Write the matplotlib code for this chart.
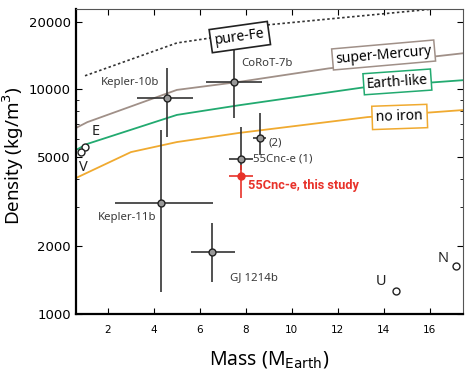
import matplotlib
matplotlib.use("Agg")
import matplotlib.pyplot as plt
from matplotlib.ticker import FixedLocator, NullFormatter

# composition curves (mass in M_Earth, density in kg/m^3)
fe_mass = [1.0, 5.0, 6.4, 9.0, 17.5]
fe_rho = [11500, 16100, 16900, 19400, 23500]
merc_mass = [0.6, 1.1, 5.0, 7.7, 11.6, 17.5]
merc_rho = [6730, 7150, 9950, 10800, 12400, 14500]
earth_mass = [0.6, 1.1, 5.0, 7.7, 13.1, 17.5]
earth_rho = [5370, 5720, 7700, 8500, 10200, 11000]
noiron_mass = [0.6, 3.0, 5.0, 7.7, 13.3, 17.5]
noiron_rho = [4030, 5260, 5830, 6400, 7530, 8100]

# exoplanets with error bars
planets = ["Kepler-10b", "CoRoT-7b", "Kepler-11b", "GJ 1214b", "55Cnc-e (2)", "55Cnc-e (1)"]
p_mass = [4.57, 7.48, 4.30, 6.52, 8.60, 7.81]
p_mass_lo = [1.30, 1.20, 2.00, 0.92, 0.30, 0.55]
p_mass_hi = [1.13, 1.22, 2.27, 1.00, 0.27, 0.49]
p_rho = [9160, 10800, 3120, 1890, 6095, 4885]
p_rho_lo = [3020, 3340, 1870, 500, 995, 505]
p_rho_hi = [3290, 4500, 3480, 650, 1755, 1915]

# this study
cnc_mass = 7.81
cnc_mass_err = (0.55, 0.49)
cnc_rho = 4120
cnc_rho_err = (835, 490)

# solar system
ss_names = ["E", "V", "U", "N"]
ss_mass = [1.0, 0.815, 14.54, 17.15]
ss_rho = [5515, 5243, 1270, 1638]

xticks = [2, 4, 6, 8, 10, 12, 14, 16]
yticks = [1000, 2000, 5000, 10000, 20000]

fig = plt.figure(figsize=(4.68, 3.83), dpi=100)
ax = fig.add_axes([0.162, 0.180, 0.827, 0.7965])
ax.set_yscale("log")
ax.set_xlim(0.6, 17.45)
ax.set_ylim(1000, 22800)

ax.plot(fe_mass, fe_rho, color="#333333", lw=1.2, ls=(0, (1.5, 1.5)))
ax.plot(merc_mass, merc_rho, color="#a09088", lw=1.3)
ax.plot(earth_mass, earth_rho, color="#22aa70", lw=1.3)
ax.plot(noiron_mass, noiron_rho, color="#f0aa30", lw=1.3)

lab_font = "Noto Sans"
ax.text(7.74, 17100, "pure-Fe", rotation=8, ha="center", va="center", fontsize=10,
        family=lab_font, zorder=5,
        bbox=dict(boxstyle="square,pad=0.3", fc="white", ec="#222222", lw=1.2))
ax.text(14.0, 14230, "super-Mercury", rotation=5, ha="center", va="center", fontsize=10,
        family=lab_font, zorder=5,
        bbox=dict(boxstyle="square,pad=0.22", fc="white", ec="#a09088", lw=1.1))
ax.text(14.6, 10800, "Earth-like", rotation=4, ha="center", va="center", fontsize=10,
        family=lab_font, zorder=5,
        bbox=dict(boxstyle="square,pad=0.22", fc="white", ec="#22aa70", lw=1.1))
ax.text(14.7, 7540, "no iron", rotation=2, ha="center", va="center", fontsize=10,
        family=lab_font, zorder=5,
        bbox=dict(boxstyle="square,pad=0.3", fc="white", ec="#f0aa30", lw=1.1))

for i in range(len(planets)):
    ax.errorbar(p_mass[i], p_rho[i],
                xerr=[[p_mass_lo[i]], [p_mass_hi[i]]],
                yerr=[[p_rho_lo[i]], [p_rho_hi[i]]],
                fmt="o", ms=5, mfc="#999999", mec="#222222", mew=1.0,
                ecolor="#333333", elinewidth=1.2, capsize=0, zorder=4)

ax.errorbar(cnc_mass, cnc_rho,
            xerr=[[cnc_mass_err[0]], [cnc_mass_err[1]]],
            yerr=[[cnc_rho_err[0]], [cnc_rho_err[1]]],
            fmt="o", ms=5, mfc="#e8322a", mec="#e8322a",
            ecolor="#e8322a", elinewidth=1.2, capsize=0, zorder=4)

ax.plot(ss_mass, ss_rho, "o", ms=5, mfc="white", mec="#222222", mew=1.0, ls="none", zorder=6)

txt = "#3a3a3a"
fs = 8.2
ax.text(2.96, 10700, "Kepler-10b", ha="center", va="center", fontsize=fs, color=txt, family=lab_font)
ax.text(8.93, 13100, "CoRoT-7b", ha="center", va="center", fontsize=fs, color=txt, family=lab_font)
ax.text(2.83, 2700, "Kepler-11b", ha="center", va="center", fontsize=fs, color=txt, family=lab_font)
ax.text(8.35, 1446, "GJ 1214b", ha="center", va="center", fontsize=fs, color=txt, family=lab_font)
ax.text(8.3, 4885, "55Cnc-e (1)", ha="left", va="center", fontsize=fs, color=txt, family=lab_font)
ax.text(9.0, 5770, "(2)", ha="left", va="center", fontsize=fs, color=txt, family=lab_font)
ax.text(8.09, 3750, "55Cnc-e, this study", ha="left", va="center", fontsize=9.2,
        color="#e8322a", fontweight="bold", family="Roboto")

ss_text_pos = [(1.45, 6480), (0.93, 4500), (13.9, 1390), (16.6, 1760)]
for name, (tx, ty) in zip(ss_names, ss_text_pos):
    ax.text(tx, ty, name, ha="center", va="center", fontsize=10.5, color="#222222", family=lab_font)

ax.xaxis.set_major_locator(FixedLocator(xticks))
ax.yaxis.set_major_locator(FixedLocator(yticks))
ax.yaxis.set_minor_formatter(NullFormatter())
ax.set_yticklabels([str(v) for v in yticks], fontsize=9.5)
ax.set_xticklabels([str(v) for v in xticks], fontsize=7.5)
ax.tick_params(which="both", direction="in", top=True, right=True)
ax.tick_params(which="major", length=4, width=0.8)
ax.tick_params(which="minor", length=2.5, width=0.6)
ax.tick_params(axis="x", pad=8)

for side in ["left", "bottom"]:
    ax.spines[side].set_linewidth(1.6)
for side in ["top", "right"]:
    ax.spines[side].set_linewidth(0.8)
    ax.spines[side].set_color("#555555")

ax.set_xlabel(r"Mass (M$_{\mathrm{Earth}}$)", fontsize=14, family=lab_font, labelpad=10)
ax.set_ylabel(r"Density (kg/m$^3$)", fontsize=13.5, family=lab_font)
ax.yaxis.set_label_coords(-0.130, 0.52)

fig.savefig("out.png", dpi=100)
